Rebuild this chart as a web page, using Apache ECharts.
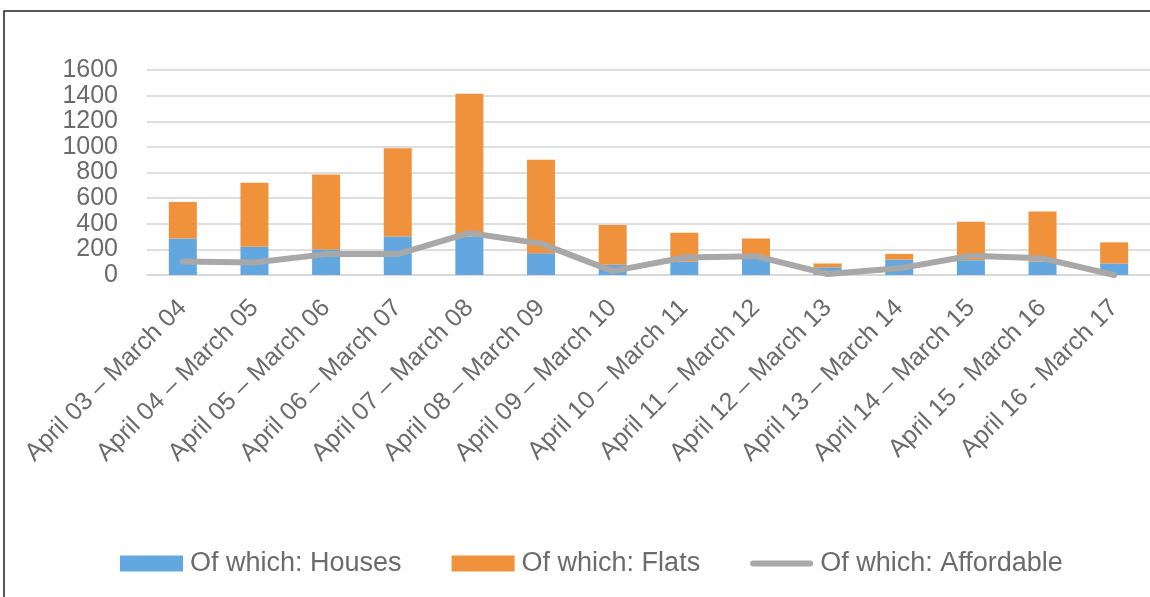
<!DOCTYPE html>
<html>
<head>
<meta charset="utf-8">
<script src="https://cdn.jsdelivr.net/npm/echarts@6/dist/echarts.min.js"></script>
<style>
  html, body { margin: 0; padding: 0; background: #fff; }
  #chart { width: 1150px; height: 597px; }
</style>
</head>
<body>
<div id="chart"></div>
<script>
var categories = [
    'April 03 \u2013 March 04', 'April 04 \u2013 March 05', 'April 05 \u2013 March 06',
    'April 06 \u2013 March 07', 'April 07 \u2013 March 08', 'April 08 \u2013 March 09',
    'April 09 \u2013 March 10', 'April 10 \u2013 March 11', 'April 11 \u2013 March 12',
    'April 12 \u2013 March 13', 'April 13 \u2013 March 14', 'April 14 \u2013 March 15',
    'April 15 - March 16', 'April 16 - March 17'
];
var houses = [285, 220, 200, 300, 300, 170, 80, 105, 130, 60, 120, 115, 105, 90];
var flats = [285, 500, 585, 690, 1115, 730, 310, 225, 155, 30, 45, 300, 390, 165];
var affordable = [105, 98, 163, 163, 328, 245, 30, 137, 147, 8, 52, 150, 130, 0];

var font = "'Liberation Sans', sans-serif";
var txt = '#6b6b6b';
// thick rounded line for the legend, the M points keep the box 63x16
var lineIcon = 'path://M0,0 M63,16 M3,5 L60,5 A3,3 0 0 1 60,11 L3,11 A3,3 0 0 1 3,5 Z';

var option = {
    backgroundColor: '#fff',
    animation: false,
    textStyle: { fontFamily: font },
    grid: { left: 147, top: 70, width: 1003, height: 205 },
    graphic: [{
        type: 'rect',
        shape: { x: 4, y: 11, width: 1200, height: 700 },
        style: { fill: 'none', stroke: '#222', lineWidth: 1.5 },
        silent: true
    }],
    legend: {
        bottom: 15,
        left: 115,
        itemWidth: 63,
        itemHeight: 16,
        itemGap: 50,
        textStyle: { fontFamily: font, fontSize: 27, color: txt, padding: [0, 0, 0, 2] },
        data: [
            { name: 'Of which: Houses', icon: 'rect' },
            { name: 'Of which: Flats', icon: 'rect' },
            { name: 'Of which: Affordable', icon: lineIcon }
        ]
    },
    xAxis: {
        type: 'category',
        data: categories,
        axisLine: { lineStyle: { color: '#d9d9d9', width: 2 } },
        axisTick: { show: false },
        axisLabel: {
            rotate: 45,
            interval: 0,
            margin: 29,
            fontSize: 25,
            color: txt,
            fontFamily: font
        }
    },
    yAxis: {
        type: 'value',
        min: 0,
        max: 1600,
        interval: 200,
        axisLine: { show: false },
        axisTick: { show: false },
        splitLine: { lineStyle: { color: '#dedede', width: 2 } },
        axisLabel: {
            fontSize: 25,
            color: txt,
            margin: 29,
            fontFamily: font,
            showMinLabel: true,
            showMaxLabel: true,
            hideOverlap: false,
            formatter: function (v) { return String(v); }
        }
    },
    series: [
        {
            name: 'Of which: Houses',
            type: 'bar',
            stack: 'total',
            barWidth: 28,
            itemStyle: { color: '#62a7df' },
            data: houses
        },
        {
            name: 'Of which: Flats',
            type: 'bar',
            stack: 'total',
            barWidth: 28,
            itemStyle: { color: '#f0913b' },
            data: flats
        },
        {
            name: 'Of which: Affordable',
            type: 'line',
            symbol: 'none',
            itemStyle: { color: '#a8a8a8' },
            lineStyle: { color: '#a8a8a8', width: 6, cap: 'round' },
            data: affordable
        }
    ]
};

var myChart = echarts.init(document.getElementById('chart'));
myChart.setOption(option);
</script>
</body>
</html>
